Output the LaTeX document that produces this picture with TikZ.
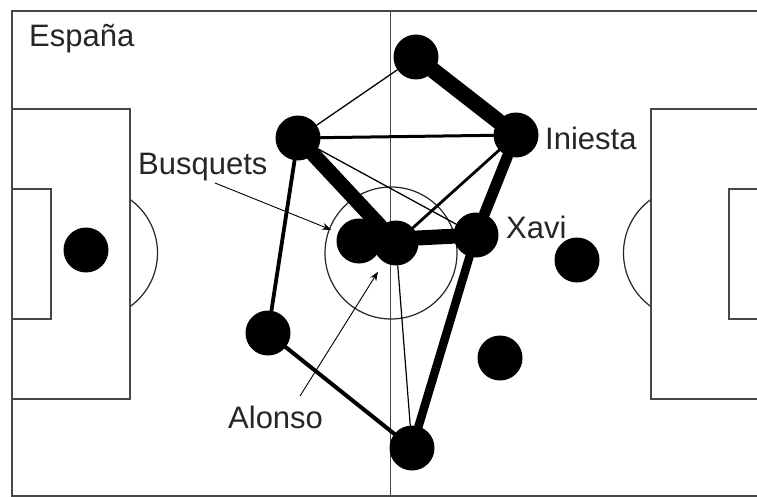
\documentclass[tikz,border=0pt]{standalone}
\usepackage{fontspec}
\setmainfont{Liberation Sans}
\usetikzlibrary{arrows.meta}
\begin{document}
\begin{tikzpicture}[x=1pt,y=-1pt,
  fieldline/.style={draw=black!72, line width=1.8pt},
  thinline/.style={draw=black!85, line width=1.2pt},
  player/.style={circle, fill=black, minimum size=45pt, inner sep=0pt},
  lbl/.style={anchor=base west, inner sep=0pt, font=\fontsize{31}{36}\selectfont, text=black!85},
  link/.style={draw=black, line width=#1, line cap=round},
  pointer/.style={draw=black, line width=0.9pt, -{Stealth[length=9pt,width=7pt]}}]
\useasboundingbox (0,0) rectangle (757,497);
\fill[white] (0,0) rectangle (757,497);
\clip (0,0) rectangle (757,497);
% field
\draw[fieldline] (12,11) rectangle (770,496);
\draw[fieldline] (390.5,11) -- (390.5,496);
\draw[fieldline] (12,109) rectangle (130,399);
\draw[fieldline] (12,189) rectangle (51,319);
\draw[fieldline] (651,109) rectangle (770,399);
\draw[fieldline] (729,189) rectangle (770,319);
\draw[thinline] (391,253) circle[radius=66];
\begin{scope}
  \clip (131,0) rectangle (300,497);
  \draw[thinline] (91.5,253) circle[radius=66];
\end{scope}
\begin{scope}
  \clip (480,0) rectangle (650,497);
  \draw[thinline] (689.5,253) circle[radius=66];
\end{scope}
% players
\node[player] (gk)   at (86,250) {};
\node[player] (top)  at (416,57) {};
\node[player] (ini)  at (516,135) {};
\node[player] (lt)   at (298,138) {};
\node[player] (busq) at (359,241) {};
\node[player] (alo)  at (396,243) {};
\node[player] (xavi) at (476,235) {};
\node[player] (rgt)  at (577,260) {};
\node[player] (mid)  at (500,358) {};
\node[player] (lb)   at (268,333) {};
\node[player] (bot)  at (412,448) {};
% passes
\draw[link=16pt] (top) -- (ini);
\draw[link=1.3pt] (top) -- (lt);
\draw[link=3pt] (lt) -- (ini);
\draw[link=15pt] (lt) -- (alo);
\draw[link=1.3pt] (lt) -- (xavi);
\draw[link=3.8pt] (lt) -- (lb);
\draw[link=2.8pt] (ini) -- (alo);
\draw[link=11pt] (ini) -- (xavi);
\draw[link=15pt] (busq.center) -- (xavi);
\draw[link=8.5pt] (xavi) -- (bot);
\draw[link=1.2pt] (alo) -- (bot);
\draw[link=4pt] (lb) -- (bot);
% labels
\node[lbl] (esp)  at (29,47) {España};
\node[lbl] (blab) at (138,175) {Busquets};
\node[lbl] (ilab) at (545,150) {Iniesta};
\node[lbl] (xlab) at (506,238) {Xavi};
\node[lbl] (alab) at (228,428) {Alonso};
\coordinate (bstart) at (215,183);
\coordinate (astart) at (300,396);
\draw[pointer, shorten >=30pt] (bstart) -- (busq.center);
\draw[pointer, shorten >=34pt] (astart) -- (alo.center);
\end{tikzpicture}
\end{document}
